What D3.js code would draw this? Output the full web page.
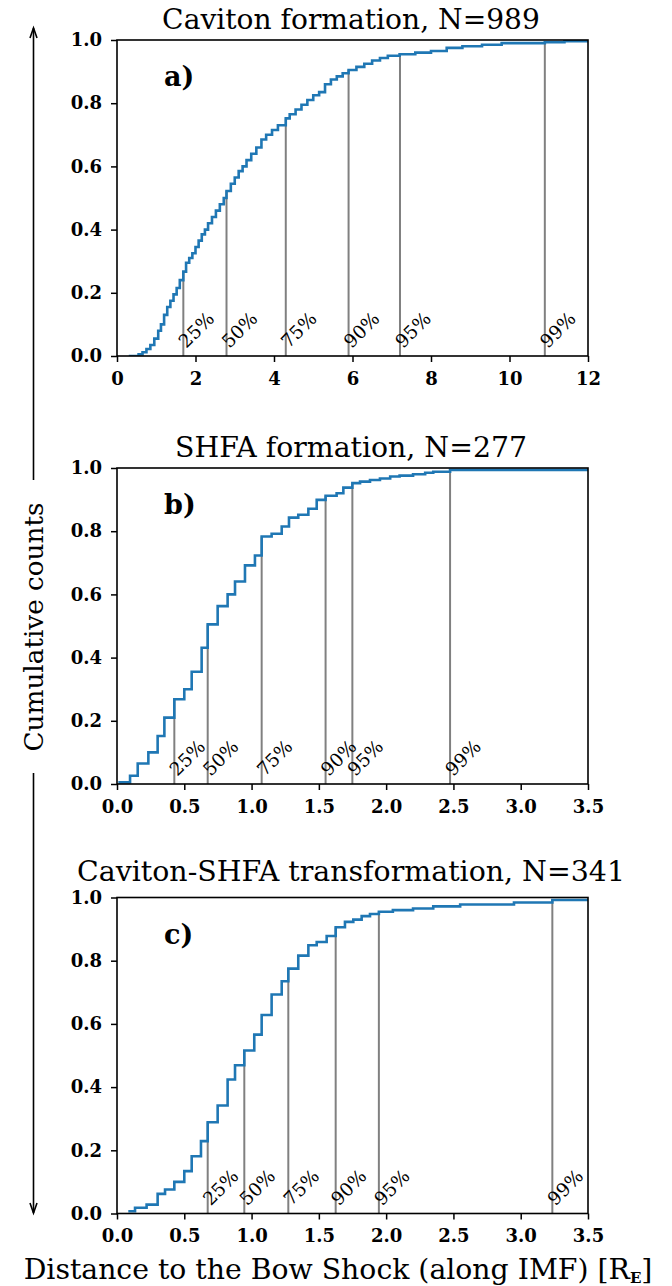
<!DOCTYPE html>
<html>
<head>
<meta charset="utf-8">
<script src="https://cdn.jsdelivr.net/npm/d3@7"></script>
<style>
  body { margin: 0; background: #fff; }
  text { font-family: "DejaVu Serif", serif; }
</style>
</head>
<body>
<div id="vis"></div>
<script>
// ---- data ----
const titles = ["Caviton formation, N=989", "SHFA formation, N=277", "Caviton-SHFA transformation, N=341"];
const letters = ["a)", "b)", "c)"];
const xMaxes = [12, 3.5, 3.5];
const xTicksA = [0, 2, 4, 6, 8, 10, 12];
const xTicksBC = [0, 0.5, 1, 1.5, 2, 2.5, 3, 3.5];
const yTicks = [0, 0.2, 0.4, 0.6, 0.8, 1.0];
const pctLabels = ["25%", "50%", "75%", "90%", "95%", "99%"];

// a) caviton formation, step CDF
const cavX = [0.3, 0.55, 0.65, 0.75, 0.85, 0.95, 1.05, 1.12, 1.2, 1.28, 1.36, 1.44, 1.52, 1.6, 1.69, 1.76, 1.84, 1.92,
  2.0, 2.08, 2.16, 2.24, 2.32, 2.42, 2.52, 2.62, 2.72, 2.79, 2.9, 3.0, 3.1, 3.2, 3.3, 3.42, 3.55, 3.68, 3.8, 3.95,
  4.1, 4.3, 4.4, 4.55, 4.7, 4.85, 5.0, 5.15, 5.3, 5.45, 5.6, 5.75, 5.9, 6.1, 6.3, 6.5, 6.7, 6.9, 7.2, 7.6, 8.0,
  8.4, 8.8, 9.3, 9.8, 10.9, 11.4, 12];
const cavY = [0.0, 0.005, 0.012, 0.022, 0.035, 0.055, 0.08, 0.10, 0.13, 0.155, 0.175, 0.195, 0.215, 0.24, 0.267, 0.295,
  0.31, 0.325, 0.345, 0.365, 0.385, 0.40, 0.42, 0.44, 0.46, 0.48, 0.50, 0.522, 0.545, 0.565, 0.585, 0.60, 0.62,
  0.64, 0.66, 0.685, 0.70, 0.715, 0.73, 0.752, 0.765, 0.78, 0.795, 0.81, 0.825, 0.835, 0.86, 0.875, 0.885, 0.895,
  0.905, 0.915, 0.925, 0.935, 0.943, 0.95, 0.955, 0.96, 0.965, 0.975, 0.98, 0.985, 0.99, 0.993, 0.996, 0.997];
const cavPct = [1.69, 2.79, 4.30, 5.90, 7.21, 10.90];

// b) SHFA formation
const shfaX = [0.01, 0.097, 0.154, 0.233, 0.302, 0.352, 0.426, 0.50, 0.555, 0.629, 0.674, 0.748, 0.822, 0.877, 0.951,
  1.025, 1.075, 1.149, 1.224, 1.278, 1.347, 1.422, 1.484, 1.55, 1.632, 1.682, 1.749, 1.806, 1.88, 1.954, 2.03,
  2.10, 2.20, 2.29, 2.35, 2.475, 3.5];
const shfaY = [0.005, 0.026, 0.065, 0.10, 0.152, 0.21, 0.268, 0.30, 0.355, 0.431, 0.505, 0.563, 0.60, 0.641, 0.692,
  0.723, 0.783, 0.792, 0.815, 0.843, 0.852, 0.871, 0.899, 0.912, 0.92, 0.938, 0.952, 0.957, 0.962, 0.967, 0.973,
  0.976, 0.98, 0.985, 0.988, 0.994, 0.994];
const shfaPct = [0.426, 0.674, 1.075, 1.55, 1.749, 2.475];

// c) caviton-SHFA transformation
const trX = [0.084, 0.134, 0.22, 0.302, 0.357, 0.426, 0.50, 0.555, 0.624, 0.674, 0.748, 0.822, 0.877, 0.946, 1.02,
  1.075, 1.149, 1.224, 1.273, 1.347, 1.422, 1.484, 1.558, 1.625, 1.694, 1.756, 1.818, 1.88, 1.946, 2.05, 2.2,
  2.35, 2.55, 2.95, 3.235, 3.5];
const trY = [0.007, 0.018, 0.028, 0.062, 0.076, 0.10, 0.134, 0.181, 0.229, 0.289, 0.342, 0.424, 0.469, 0.516, 0.566,
  0.628, 0.693, 0.735, 0.775, 0.816, 0.849, 0.859, 0.878, 0.906, 0.923, 0.930, 0.941, 0.948, 0.955, 0.96, 0.965,
  0.972, 0.978, 0.984, 0.992, 0.992];
const trPct = [0.674, 0.946, 1.273, 1.625, 1.946, 3.235];

// ---- layout ----
const WIDTH = 672, HEIGHT = 1286;
const LEFT = 117, RIGHT = 588, PLOT_H = 316;
const TOPS = [40, 468, 897.5];
const TITLE_GAP = [11, 11, 17];
const BLUE = "#1f77b4", GREY = "#808080";

const panels = [
  {xs: cavX, ys: cavY, pct: cavPct, ticks: xTicksA, fmt: d3.format("d")},
  {xs: shfaX, ys: shfaY, pct: shfaPct, ticks: xTicksBC, fmt: d3.format(".1f")},
  {xs: trX, ys: trY, pct: trPct, ticks: xTicksBC, fmt: d3.format(".1f")}
];

const svg = d3.select("#vis").append("svg")
  .attr("width", WIDTH).attr("height", HEIGHT);
svg.append("rect").attr("width", WIDTH).attr("height", HEIGHT).attr("fill", "#fff");

// shrink/grow a text node's font size until it spans the wanted width
function fitWidth(sel, target) {
  var fs = parseFloat(sel.attr("font-size"));
  var len = sel.node().getComputedTextLength();
  sel.attr("font-size", (fs * target / len).toFixed(2) + "px");
}

panels.forEach(function (p, k) {
  var top = TOPS[k];
  var x = d3.scaleLinear().domain([0, xMaxes[k]]).range([LEFT, RIGHT]);
  var y = d3.scaleLinear().domain([0, 1]).range([top + PLOT_H, top]);
  var g = svg.append("g");

  g.append("clipPath").attr("id", "clip" + k)
    .append("rect").attr("x", LEFT).attr("y", top).attr("width", RIGHT - LEFT).attr("height", PLOT_H);

  var pts = p.xs.map(function (d, i) { return [d, p.ys[i]]; });
  var bis = d3.bisector(function (d) { return d[0]; }).right;
  var cdfAt = function (v) { return pts[Math.max(0, bis(pts, v + 1e-9) - 1)][1]; };

  // percentile lines
  g.append("g").selectAll("line")
    .data(p.pct)
    .enter()
    .append("line")
    .attr("x1", function (d) { return x(d); })
    .attr("x2", function (d) { return x(d); })
    .attr("y1", y(0))
    .attr("y2", function (d) { return y(cdfAt(d)); })
    .attr("stroke", GREY)
    .attr("stroke-width", 2);

  // step curve
  var line = d3.line()
    .x(function (d) { return x(d[0]); })
    .y(function (d) { return y(d[1]); })
    .curve(d3.curveStepAfter);
  g.append("path")
    .datum(pts)
    .attr("clip-path", "url(#clip" + k + ")")
    .attr("d", line)
    .attr("fill", "none")
    .attr("stroke", BLUE)
    .attr("stroke-width", 2.6);

  // percentile labels
  g.append("g").selectAll("text")
    .data(p.pct)
    .enter()
    .append("text")
    .text(function (d, i) { return pctLabels[i]; })
    .attr("font-size", "18.5px")
    .attr("transform", function (d) {
      return "translate(" + (x(d) + 3) + "," + (y(0) - 7) + ") rotate(-45)";
    });

  // axes
  var xAxis = g.append("g")
    .attr("transform", "translate(0," + y(0) + ")")
    .call(d3.axisBottom(x).tickValues(p.ticks).tickFormat(p.fmt).tickSize(6).tickPadding(10));
  var yAxis = g.append("g")
    .attr("transform", "translate(" + LEFT + ",0)")
    .call(d3.axisLeft(y).tickValues(yTicks).tickFormat(d3.format(".1f")).tickSize(6).tickPadding(9));
  [xAxis, yAxis].forEach(function (a) {
    a.select(".domain").remove();
    a.selectAll(".tick line").attr("stroke", "#000").attr("stroke-width", 1.5);
    a.selectAll(".tick text")
      .attr("font-family", "DejaVu Serif, serif")
      .attr("font-weight", "bold")
      .attr("font-size", "18px")
      .attr("fill", "#000");
  });

  g.append("rect")
    .attr("x", LEFT).attr("y", top).attr("width", RIGHT - LEFT).attr("height", PLOT_H)
    .attr("fill", "none").attr("stroke", "#000").attr("stroke-width", 1.6);

  // panel letter
  g.append("text")
    .text(letters[k])
    .attr("x", LEFT + 47)
    .attr("y", top + 46)
    .attr("font-size", "27px")
    .attr("font-weight", "bold");

  // title
  var t = g.append("text")
    .text(titles[k])
    .attr("x", 351)
    .attr("y", top - TITLE_GAP[k])
    .attr("text-anchor", "middle")
    .attr("font-size", "22px");
  fitWidth(t, [378, 352, 548][k]);
});

// y label with the long double arrow
var AX = 33.5;
var ylab = svg.append("text")
  .text("Cumulative counts")
  .attr("text-anchor", "middle")
  .attr("font-size", "22px")
  .attr("transform", "translate(43,627) rotate(-90)");
fitWidth(ylab, 249);

var arrow = svg.append("g").attr("stroke", "#000").attr("stroke-width", 1.6).attr("fill", "none");
arrow.append("line").attr("x1", AX).attr("x2", AX).attr("y1", 28).attr("y2", 480);
arrow.append("line").attr("x1", AX).attr("x2", AX).attr("y1", 773).attr("y2", 1213);
arrow.append("path").attr("d", "M" + (AX - 3.5) + ",38L" + AX + ",28L" + (AX + 3.5) + ",38");
arrow.append("path").attr("d", "M" + (AX - 3.5) + ",1203L" + AX + ",1213L" + (AX + 3.5) + ",1203");

// x label
var xlab = svg.append("text")
  .attr("x", 338)
  .attr("y", 1279)
  .attr("text-anchor", "middle")
  .attr("font-size", "22px");
xlab.append("tspan").text("Distance to the Bow Shock (along IMF) [R");
xlab.append("tspan").text("E").attr("font-size", "15px").attr("font-weight", "bold").attr("dy", 4);
xlab.append("tspan").text("]").attr("dy", -4);
fitWidth(xlab, 632);
</script>
</body>
</html>
